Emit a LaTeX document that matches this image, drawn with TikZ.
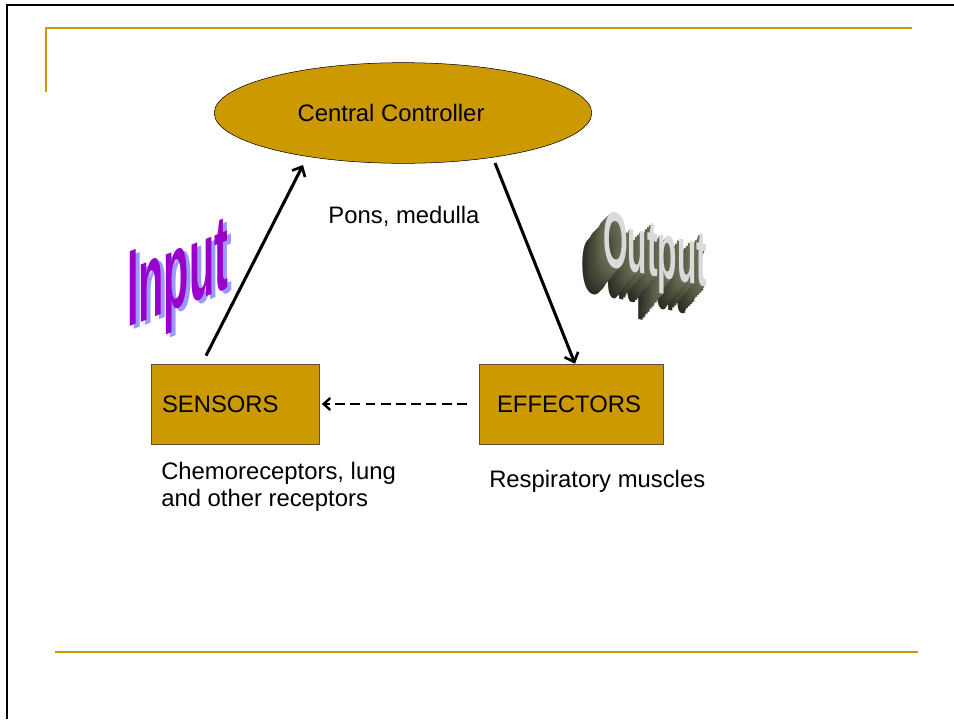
\documentclass[tikz,border=0pt]{standalone}
\usepackage{fontspec}
\setmainfont{Liberation Sans}
\usetikzlibrary{shapes.geometric,arrows.meta}
\definecolor{gold}{HTML}{CC9900}
\definecolor{boxline}{HTML}{5C5233}
\definecolor{inpurple}{HTML}{9A00CC}
\definecolor{inshadow}{HTML}{9999FF}
\definecolor{outface}{HTML}{DADADA}
\definecolor{outside}{HTML}{6E7158}

\begin{document}
\begin{tikzpicture}[x=0.755pt, y=-0.755pt, font=\fontsize{18}{20.5}\selectfont,
	block/.style={draw=boxline, fill=gold, minimum height=60.4pt, align=left, inner ysep=0pt},
	feed/.style={line width=2.3pt, -{Straight Barb[length=6pt, width=11pt, line width=2pt]}},
	inword/.style={font=\fontsize{82}{82}\selectfont\bfseries, inner sep=0pt, anchor=base west, cm={0.38,0.152,0,1,(0,0)}},
	outword/.style={font=\fontsize{60}{60}\selectfont\bfseries, inner sep=0pt, anchor=base west, cm={0.40,-0.084,0,1,(0,0)}}]
	\useasboundingbox (0,0) rectangle (954,719);
	\draw[line width=1.5pt] (954,5) -- (7,5) -- (7,719);
	\draw[gold, line width=2.2pt] (912,28) -- (46,28) -- (46,92);
	\draw[gold, line width=2.2pt] (55,652) -- (918,652);
	\node[ellipse, draw=black, fill=gold, minimum width=285pt, minimum height=76pt, inner sep=0pt] (ctrl) at (403,113) {Central Controller\hspace*{18pt}};
	\node[block, text width=110.2pt, inner xsep=8.3pt] (sens) at (235,404) {SENSORS};
	\node[block, text width=111.7pt, inner xsep=13.6pt] (eff) at (571,404) {EFFECTORS};
	\node (pons) at (404,216) {Pons, medulla};
	\node[anchor=west, align=left, inner sep=0pt] (sensnote) at (161,487) {Chemoreceptors, lung\\and other receptors};
	\node[anchor=west, inner sep=0pt] (effnote) at (489,481) {Respiratory muscles};
	\draw[feed] ([shift={(-29,-8)}]sens.north) -- ([shift={(-100,52)}]ctrl.center);
	\draw[feed] ([shift={(92,50)}]ctrl.center) -- ([shift={(4,0)}]eff.north);
	\draw[line width=1.5pt, dash pattern=on 7.5pt off 4pt, -{Straight Barb[length=5pt, width=9pt, line width=1.8pt]}] ([xshift=-9]eff.west) -- ([xshift=2]sens.east);
	\begin{scope}[shift={(131,331)}]
		\node[inword, text=inshadow] (inshade) at (0,0) {Input};
	\end{scope}
	\begin{scope}[shift={(127,328)}]
		\node[inword, text=inpurple] (inword) at (0,0) {Input};
	\end{scope}
	\foreach \k [evaluate=\k as \p using 100-5*\k] in {12,11,...,1} {
		\begin{scope}[shift={(603-1.8*\k,265+2.2*\k)}]
			\node[outword, text=outside!\p!black] at (0,0) {Output};
		\end{scope}
	}
	\begin{scope}[shift={(603,265)}]
		\node[outword, text=outface] (outword) at (0,0) {Output};
	\end{scope}
\end{tikzpicture}
\end{document}
